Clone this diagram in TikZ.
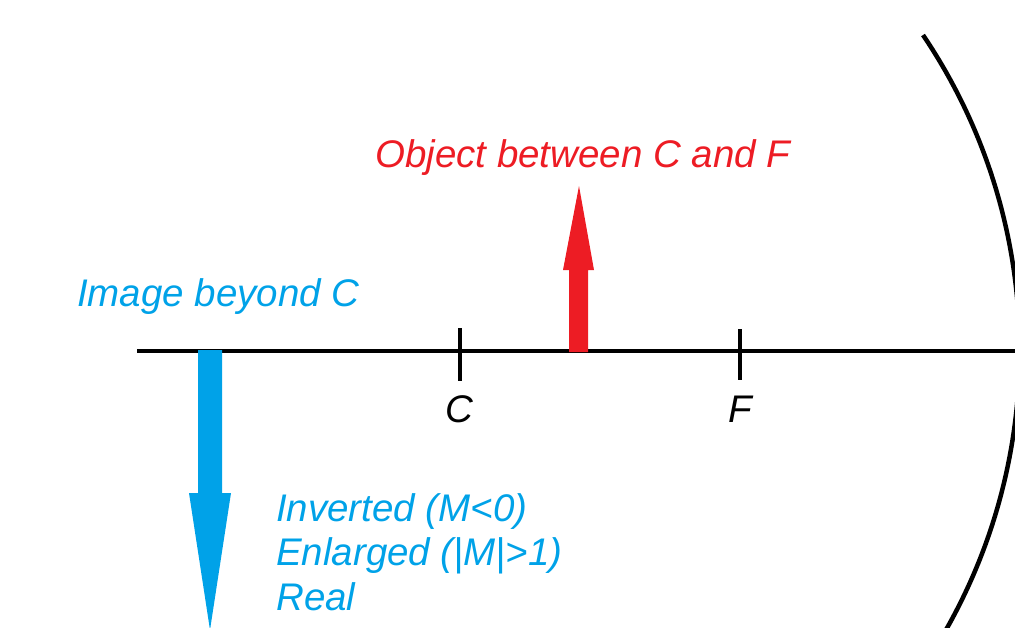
\documentclass[tikz,border=0pt]{standalone}
\usepackage{fontspec}
\setmainfont{Liberation Sans}
\definecolor{objred}{RGB}{237,28,36}
\definecolor{imgblue}{RGB}{0,162,232}
\begin{document}
\begin{tikzpicture}[x=1pt,y=-1pt,
  lbl/.style={inner sep=0pt,font=\fontsize{38.5}{44.5}\selectfont\itshape},
  axisline/.style={line width=4.5pt,black},
  mirrorline/.style={line width=4.5pt,black},
  ticks/.style={line width=4pt,black}]
\useasboundingbox (0,0) rectangle (1015,627);
\clip (0,0) rectangle (1015,627);
% principal axis
\coordinate (axL) at (137,351);
\coordinate (axR) at (1016,351);
\draw[axisline] (axL) -- (axR);
% ticks
\coordinate (Ct) at (460,328);
\coordinate (Cb) at (460,381);
\coordinate (Ft) at (740,329);
\coordinate (Fb) at (740,380);
\draw[ticks] (Ct) -- (Cb);
\draw[ticks] (Ft) -- (Fb);
% mirror
\coordinate (mtop) at (923,35);
\draw[mirrorline] (mtop) arc[start angle=-34, end angle=40, radius=565];
% object arrow (red)
\fill[objred] (569,352) -- (569,270) -- (563,270) -- (579,186) -- (594,270) -- (588,270) -- (588,352) -- cycle;
% image arrow (blue)
\fill[imgblue] (198,350) -- (198,493) -- (189,493) -- (210,630) -- (231,493) -- (222,493) -- (222,350) -- cycle;
% labels
\node[lbl,text=objred,anchor=base west] (objlbl) at (375,167) {Object between C and F};
\node[lbl,text=imgblue,anchor=base west] (imglbl) at (77,306) {Image beyond C};
\node[lbl,anchor=base] (clbl) at (459,422) {C};
\node[lbl,anchor=base] (flbl) at (740,422) {F};
\node[lbl,text=imgblue,anchor=base west,align=left] (props) at (276,610) {Inverted (M\textless0)\\Enlarged (|M|\textgreater1)\\Real};
\end{tikzpicture}
\end{document}
